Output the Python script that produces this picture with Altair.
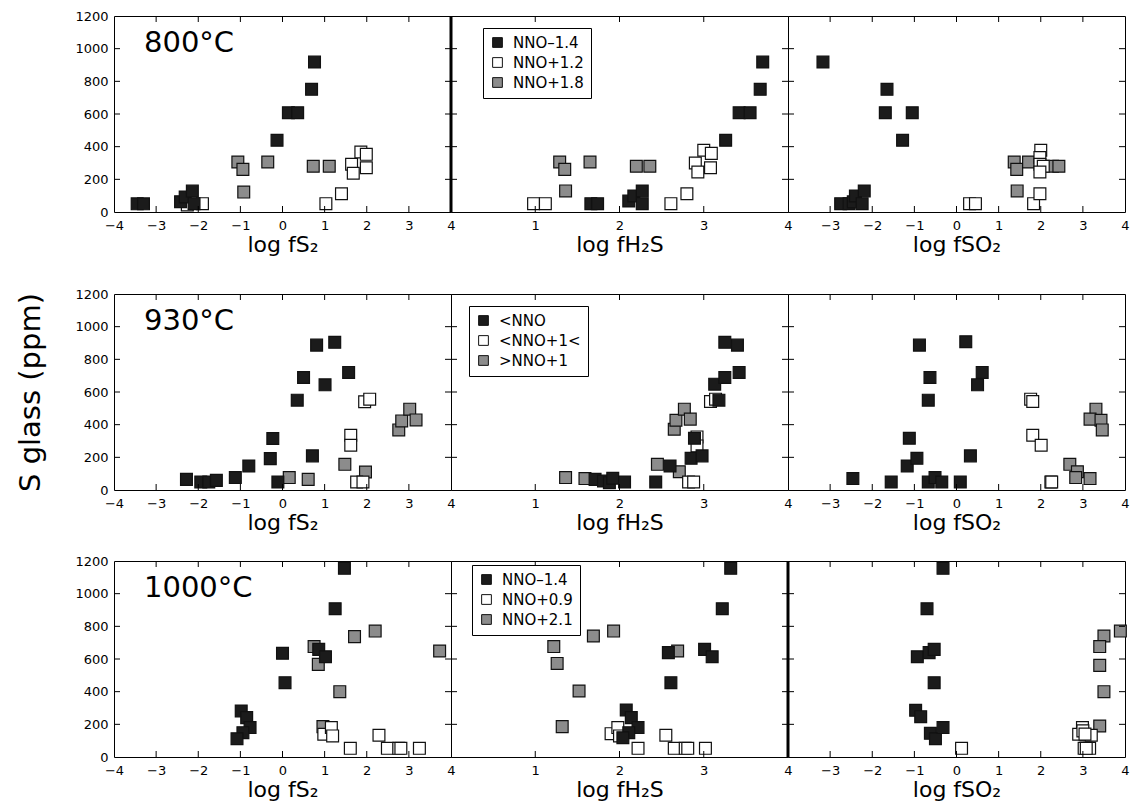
import altair as alt
import pandas as pd

FONT = "DejaVu Sans"
W, H = 337, 196

TEMPS = ["800°C", "930°C", "1000°C"]
ROW_LABELS = [
    ["NNO–1.4", "NNO+1.2", "NNO+1.8"],
    ["<NNO", "<NNO+1<", ">NNO+1"],
    ["NNO–1.4", "NNO+0.9", "NNO+2.1"],
]
AXIS_TITLES = ["log fS₂", "log fH₂S", "log fSO₂"]
X_DOMAINS = [[-4, 4], [0, 4], [-4, 4]]
X_LABEL_VALUES = [[-4, -3, -2, -1, 0, 1, 2, 3, 4], [1, 2, 3, 4], [-3, -2, -1, 0, 1, 2, 3, 4]]
X_TICKS = [[-3, -2, -1, 0, 1, 2, 3], [1, 2, 3], [-3, -2, -1, 0, 1, 2, 3]]
Y_LABEL_VALUES = [0, 200, 400, 600, 800, 1000, 1200]
Y_TICKS = [200, 400, 600, 800, 1000]
COLORS = ["#1b1b1b", "#ffffff", "#8c8c8c"]

# ---- 800 °C ----
T800_FS2_BLACK = [(-3.45, 50), (-3.3, 50), (-2.42, 63), (-2.31, 92), (-2.14, 128), (-2.1, 51),
                  (-0.13, 439), (0.14, 608), (0.36, 608), (0.69, 751), (0.76, 918)]
T800_FS2_WHITE = [(-2.26, 43), (-1.9, 51), (1.03, 51), (1.40, 112), (1.64, 292), (1.68, 237),
                  (1.86, 367), (1.99, 353), (1.99, 271)]
T800_FS2_GRAY = [(-1.06, 306), (-0.94, 261), (-0.92, 122), (-0.35, 306), (0.73, 280), (1.11, 280)]

T800_FH2S_BLACK = [(1.66, 51), (1.74, 51), (2.11, 67), (2.17, 98), (2.27, 129), (2.27, 51),
                   (3.26, 439), (3.42, 608), (3.55, 608), (3.67, 751), (3.70, 918)]
T800_FH2S_WHITE = [(0.98, 51), (1.12, 51), (2.61, 51), (2.80, 112), (2.90, 300), (2.93, 245),
                   (3.0, 378), (3.09, 359), (3.08, 271)]
T800_FH2S_GRAY = [(1.29, 306), (1.35, 261), (1.36, 129), (1.65, 306), (2.2, 280), (2.36, 280)]

T800_FSO2_BLACK = [(-3.17, 918), (-1.65, 751), (-1.69, 608), (-1.05, 608), (-1.28, 439),
                   (-2.75, 51), (-2.55, 51), (-2.45, 62), (-2.4, 98), (-2.19, 129), (-2.24, 51)]
T800_FSO2_WHITE = [(0.31, 51), (0.45, 51), (1.83, 51), (1.98, 112), (2.0, 378), (1.98, 333),
                   (1.98, 292), (2.06, 280), (1.98, 245)]
T800_FSO2_GRAY = [(1.37, 306), (1.43, 261), (1.44, 129), (1.71, 306), (2.28, 280), (2.43, 280)]

# ---- 930 °C ----
T930_FS2_BLACK = [(-2.28, 65), (-1.94, 49), (-1.75, 49), (-1.57, 59), (-1.12, 76), (-0.80, 147),
                  (-0.29, 192), (-0.23, 315), (-0.11, 49), (0.35, 550), (0.50, 689), (0.81, 887),
                  (1.01, 644), (1.24, 904), (0.71, 209), (1.57, 720)]
T930_FS2_WHITE = [(1.95, 540), (2.07, 556), (1.62, 335), (1.62, 274), (1.76, 49), (1.91, 49)]
T930_FS2_GRAY = [(0.16, 76), (0.61, 65), (1.48, 157), (1.97, 110), (2.76, 368), (2.83, 423),
                 (3.02, 495), (3.17, 429)]

T930_FH2S_BLACK = [(1.71, 65), (1.81, 55), (1.88, 45), (1.92, 72), (2.06, 49), (2.43, 49),
                   (2.6, 147), (2.85, 194), (2.98, 209), (2.89, 317), (3.18, 550), (3.13, 648),
                   (3.25, 689), (3.42, 720), (3.25, 904), (3.40, 887)]
T930_FH2S_WHITE = [(3.08, 542), (3.14, 556), (2.92, 325), (2.92, 270), (2.82, 49), (2.88, 49)]
T930_FH2S_GRAY = [(1.36, 76), (1.59, 70), (2.45, 157), (2.71, 112), (2.65, 372), (2.67, 427),
                  (2.77, 495), (2.84, 434)]

T930_FSO2_BLACK = [(-2.46, 70), (-1.55, 49), (-1.17, 147), (-1.12, 317), (-0.94, 194), (-0.88, 887),
                   (-0.63, 689), (-0.67, 550), (-0.67, 49), (-0.51, 76), (-0.35, 49), (0.09, 49),
                   (0.22, 908), (0.33, 209), (0.5, 644), (0.61, 720)]
T930_FSO2_WHITE = [(1.76, 556), (1.81, 542), (1.81, 335), (2.01, 274), (2.24, 49), (2.26, 49)]
T930_FSO2_GRAY = [(2.69, 157), (2.87, 112), (2.83, 76), (3.17, 70), (3.31, 495), (3.17, 434),
                  (3.43, 427), (3.46, 368)]

# ---- 1000 °C ----
T1000_FS2_BLACK = [(-0.98, 282), (-0.85, 241), (-0.77, 180), (-0.94, 149), (-1.08, 112), (0.0, 635),
                   (0.06, 455), (0.86, 659), (1.02, 614), (1.25, 908), (1.47, 1155)]
T1000_FS2_WHITE = [(0.98, 139), (1.16, 180), (1.19, 129), (1.61, 53), (2.29, 133), (2.49, 53),
                   (2.76, 53), (2.81, 53), (3.25, 53)]
T1000_FS2_GRAY = [(0.75, 676), (0.85, 567), (0.96, 186), (1.36, 400), (1.71, 737), (2.20, 771),
                  (3.73, 649)]

T1000_FH2S_BLACK = [(2.08, 288), (2.14, 241), (2.22, 180), (2.11, 149), (2.04, 118), (2.58, 639),
                    (2.61, 455), (3.01, 659), (3.10, 614), (3.22, 908), (3.32, 1155)]
T1000_FH2S_WHITE = [(1.90, 143), (1.98, 180), (2.0, 129), (2.22, 53), (2.55, 133), (2.65, 53),
                    (2.78, 53), (2.81, 53), (3.02, 53)]
T1000_FH2S_GRAY = [(1.22, 676), (1.26, 573), (1.32, 186), (1.52, 404), (1.69, 741), (1.93, 771),
                   (2.69, 649)]

T1000_FSO2_BLACK = [(-0.32, 1155), (-0.70, 908), (-0.93, 614), (-0.65, 639), (-0.53, 659),
                    (-0.53, 455), (-0.97, 286), (-0.85, 247), (-0.62, 145), (-0.50, 112), (-0.32, 180)]
T1000_FSO2_WHITE = [(0.12, 53), (2.99, 180), (2.90, 139), (3.20, 133), (3.03, 53), (3.16, 53),
                    (3.08, 53), (3.0, 160), (3.05, 140)]
T1000_FSO2_GRAY = [(3.89, 771), (3.50, 741), (3.40, 676), (3.40, 561), (3.50, 400), (3.40, 190),
                   (3.07, 53)]

PANELS = [
    [(T800_FS2_BLACK, T800_FS2_WHITE, T800_FS2_GRAY),
     (T800_FH2S_BLACK, T800_FH2S_WHITE, T800_FH2S_GRAY),
     (T800_FSO2_BLACK, T800_FSO2_WHITE, T800_FSO2_GRAY)],
    [(T930_FS2_BLACK, T930_FS2_WHITE, T930_FS2_GRAY),
     (T930_FH2S_BLACK, T930_FH2S_WHITE, T930_FH2S_GRAY),
     (T930_FSO2_BLACK, T930_FSO2_WHITE, T930_FSO2_GRAY)],
    [(T1000_FS2_BLACK, T1000_FS2_WHITE, T1000_FS2_GRAY),
     (T1000_FH2S_BLACK, T1000_FH2S_WHITE, T1000_FH2S_GRAY),
     (T1000_FSO2_BLACK, T1000_FSO2_WHITE, T1000_FSO2_GRAY)],
]

LEGEND_POS = [(32, 12), (18, 12), (21, 4)]
THICK_EDGE = {(0, 1), (2, 2)}


def panel(row, col):
    black, white, gray = PANELS[row][col]
    labels = ROW_LABELS[row]
    recs = []
    for lab, pts in ((labels[2], gray), (labels[1], white), (labels[0], black)):
        for x, y in pts:
            recs.append({"x": x, "y": y, "series": lab})
    df = pd.DataFrame(recs)

    xs = alt.Scale(domain=X_DOMAINS[col], nice=False, zero=False)
    ys = alt.Scale(domain=[0, 1200], nice=False)

    xaxis = alt.Axis(values=X_LABEL_VALUES[col], title=AXIS_TITLES[col], format="d",
                     labelOverlap=False, labelFlush=False)
    if col == 0:
        yaxis = alt.Axis(values=Y_LABEL_VALUES, title="S glass (ppm)", format="d",
                         labelOverlap=False, labelFlush=False, titleOpacity=1 if row == 1 else 0)
    else:
        yaxis = None

    fill_kwargs = dict(scale=alt.Scale(domain=labels, range=COLORS), title=None)
    if col == 1:
        lx, ly = LEGEND_POS[row]
        fill_kwargs["legend"] = alt.Legend(
            orient="none", legendX=lx, legendY=ly,
            strokeColor="black", fillColor="white", padding=7, cornerRadius=0,
            symbolType="square", symbolSize=95, symbolStrokeColor="#111",
            symbolStrokeWidth=1, labelFontSize=15, labelFont=FONT, labelColor="black",
            rowPadding=4, labelOffset=8,
        )
    else:
        fill_kwargs["legend"] = None

    pts = alt.Chart(df).mark_square(size=140, opacity=1, stroke="#111", strokeWidth=1.2).encode(
        x=alt.X("x:Q", scale=xs, axis=xaxis),
        y=alt.Y("y:Q", scale=ys, axis=yaxis),
        fill=alt.Fill("series:N", **fill_kwargs),
    )

    xt = alt.Chart(pd.DataFrame({"t": X_TICKS[col]})).mark_rule(color="black", strokeWidth=1)
    yt = alt.Chart(pd.DataFrame({"t": Y_TICKS})).mark_rule(color="black", strokeWidth=1)
    layers = [
        pts,
        xt.encode(x=alt.X("t:Q", scale=xs, axis=xaxis), y=alt.value(0), y2=alt.value(6)),
        xt.encode(x=alt.X("t:Q", scale=xs, axis=xaxis), y=alt.value(H), y2=alt.value(H - 6)),
        yt.encode(y=alt.Y("t:Q", scale=ys, axis=yaxis), x=alt.value(0), x2=alt.value(6)),
        yt.encode(y=alt.Y("t:Q", scale=ys, axis=yaxis), x=alt.value(W), x2=alt.value(W - 6)),
    ]
    if col == 0:
        layers.append(
            alt.Chart(pd.DataFrame({"label": [TEMPS[row]]}))
            .mark_text(align="left", baseline="middle", fontSize=29, font=FONT, color="black")
            .encode(x=alt.value(30), y=alt.value(27), text="label:N")
        )
    if (row, col) in THICK_EDGE:
        layers.append(
            alt.Chart(pd.DataFrame({"e": [0]}))
            .mark_rule(color="black", strokeWidth=3)
            .encode(x=alt.value(0), y=alt.value(0), y2=alt.value(H))
        )
    return alt.layer(*layers).properties(width=W, height=H)


def row_chart(row):
    return (alt.hconcat(*[panel(row, c) for c in range(3)], spacing=0, bounds="flush")
            .resolve_scale(fill="independent"))


upper = alt.vconcat(row_chart(0), row_chart(1), spacing=31).resolve_scale(fill="independent")

chart = (
    alt.vconcat(upper, row_chart(2), spacing=20)
    .resolve_scale(fill="independent")
    .properties(padding={"left": 8, "top": 1, "right": 0, "bottom": 2}, background="white")
    .configure_view(stroke="black", strokeWidth=1)
    .configure_axis(
        domain=False, ticks=False, grid=False, labelFlush=False, labelOverlap=False,
        labelFont=FONT, labelFontSize=13, labelColor="black",
        titleFont=FONT, titleFontWeight="normal", titleColor="black",
    )
    .configure_axisX(labelPadding=7, titlePadding=2, titleFontSize=22)
    .configure_axisY(labelPadding=6, titlePadding=29, titleFontSize=29)
)

chart.save("out.html", embed_options={"renderer": "svg", "actions": False})
